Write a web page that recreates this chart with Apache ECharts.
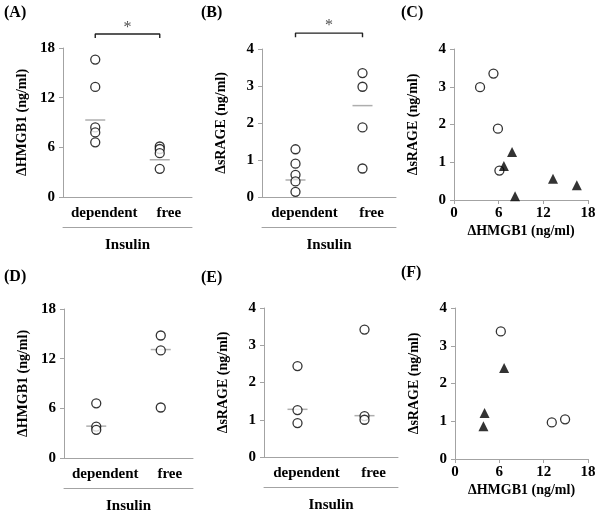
<!DOCTYPE html>
<html><head><meta charset="utf-8">
<script src="https://cdn.jsdelivr.net/npm/echarts@6/dist/echarts.min.js"></script>
<style>html,body{margin:0;padding:0;background:#fff}#c{width:601px;height:516px}</style>
</head><body><div id="c"></div>
<script>
// ---- data ----
const catLabels = ['dependent', 'free'];
const groupName = 'Insulin';
const hmgbName = '\u0394HMGB1 (ng/ml)';
const sragName = '\u0394sRAGE (ng/ml)';
// panel A: ΔHMGB1 by group
const aDep = [16.6, 13.3, 8.4, 7.8, 6.6];
const aFree = [6.1, 5.8, 5.3, 3.4];
const aMean = [9.3, 4.5];
const aBracket = [19.2, 19.7];
const aStar = 20.5;
// panel B: ΔsRAGE by group
const bDep = [1.29, 0.9, 0.6, 0.42, 0.14];
const bFree = [3.35, 2.98, 1.88, 0.77];
const bMean = [0.46, 2.47];
const bBracket = [4.32, 4.43];
const bStar = 4.62;
// panel C: scatter
const cDepX = [16.5, 13.3, 8.2, 7.8, 6.7];
const cDepY = [0.39, 0.56, 0.1, 1.27, 0.9];
const cFreeX = [5.3, 3.5, 5.9, 6.1];
const cFreeY = [3.35, 2.99, 1.89, 0.78];
// panel D
const dDep = [6.6, 3.8, 3.4];
const dFree = [14.8, 13.0, 6.1];
const dMean = [3.85, 13.1];
// panel E
const eDep = [2.44, 1.26, 0.91];
const eFree = [3.42, 1.1, 1.0];
const eMean = [1.28, 1.11];
// panel F
const fDepX = [6.65, 4.0, 3.85];
const fDepY = [2.41, 1.22, 0.87];
const fFreeX = [6.2, 13.1, 14.9];
const fFreeY = [3.38, 0.97, 1.05];
// axes
const hmgbMax = 18, hmgbStep = 6;
const sragMax = 4, sragStep = 1;
const panelLabels = ['(A)', '(B)', '(C)', '(D)', '(E)', '(F)'];

// ---- styling ----
const FONT = '"Liberation Serif", "Times New Roman", serif';
const AX = '#a3a3a3';
const txt = (s) => ({ fontFamily: FONT, fontWeight: 'bold', fontSize: s, color: '#000' });
const openCircle = { symbol: 'circle', symbolSize: 9, itemStyle: { color: '#fff', borderColor: '#000', borderWidth: 1.3 } };
const triangle = { symbol: 'triangle', symbolSize: 10, itemStyle: { color: '#000' } };

const grids = [], xAxes = [], yAxes = [], series = [];

function yAxisFor(gi, max, step, name) {
  yAxes.push({
    type: 'value', gridIndex: gi, min: 0, max: max, interval: step,
    axisLine: { show: true, onZero: false, lineStyle: { color: AX, width: 1 } },
    axisTick: { show: true, length: 4, lineStyle: { color: AX } },
    splitLine: { show: false },
    axisLabel: Object.assign(txt(15), { margin: 8 }),
    name: name, nameLocation: 'middle', nameGap: 34, nameTextStyle: txt(14)
  });
  return yAxes.length - 1;
}

function stripPanel(box, max, step, yName, dep, free, mean, bracket, star) {
  grids.push(box);
  const gi = grids.length - 1;
  xAxes.push({
    type: 'category', gridIndex: gi, data: catLabels,
    axisLine: { show: true, onZero: false, lineStyle: { color: AX } },
    axisTick: { show: false },
    axisLabel: Object.assign(txt(15), { margin: 9, interval: 0, hideOverlap: false, padding: [0, 0, 0, 18] })
  });
  xAxes.push({
    type: 'value', gridIndex: gi, min: -0.5, max: 1.5, position: 'bottom', offset: 30,
    axisLine: { show: true, onZero: false, lineStyle: { color: AX } },
    axisTick: { show: false }, axisLabel: { show: false }, splitLine: { show: false },
    name: groupName, nameLocation: 'middle', nameGap: 11, nameTextStyle: txt(15)
  });
  const xi = xAxes.length - 1;
  const yi = yAxisFor(gi, max, step, yName);
  series.push(Object.assign({ type: 'scatter', xAxisIndex: xi, yAxisIndex: yi,
    data: dep.map(v => [0, v]) }, openCircle));
  series.push(Object.assign({ type: 'scatter', xAxisIndex: xi, yAxisIndex: yi,
    data: free.map(v => [1, v]) }, openCircle));
  series.push({ type: 'scatter', xAxisIndex: xi, yAxisIndex: yi, symbol: 'rect', symbolSize: [20, 1.5],
    itemStyle: { color: '#9a9a9a' }, z: 1, data: mean.map((v, i) => [i, v]) });
  if (bracket) {
    series.push({ type: 'line', xAxisIndex: xi, yAxisIndex: yi, clip: false, symbol: 'none',
      lineStyle: { color: '#222', width: 1.4 },
      data: [[0, bracket[0]], [0, bracket[1]], [1, bracket[1]], [1, bracket[0]]] });
    series.push({ type: 'scatter', xAxisIndex: xi, yAxisIndex: yi, clip: false, symbol: 'circle', symbolSize: 2,
      itemStyle: { color: 'rgba(0,0,0,0)' },
      data: [[0.5, star]],
      label: { show: true, position: 'inside', formatter: '*', fontFamily: FONT, fontSize: 16, color: '#222' } });
  }
}

function scatterPanel(box, depX, depY, freeX, freeY) {
  grids.push(box);
  const gi = grids.length - 1;
  xAxes.push({
    type: 'value', gridIndex: gi, min: 0, max: hmgbMax, interval: hmgbStep,
    axisLine: { show: true, onZero: false, lineStyle: { color: AX } },
    axisTick: { show: true, length: 4, lineStyle: { color: AX } },
    splitLine: { show: false },
    axisLabel: Object.assign(txt(15), { margin: 6 }),
    name: hmgbName, nameLocation: 'middle', nameGap: 24, nameTextStyle: txt(14)
  });
  const xi = xAxes.length - 1;
  const yi = yAxisFor(gi, sragMax, sragStep, sragName);
  series.push(Object.assign({ type: 'scatter', xAxisIndex: xi, yAxisIndex: yi,
    data: freeX.map((x, i) => [x, freeY[i]]) }, openCircle));
  series.push(Object.assign({ type: 'scatter', xAxisIndex: xi, yAxisIndex: yi,
    data: depX.map((x, i) => [x, depY[i]]) }, triangle));
}

stripPanel({ left: 63, top: 48, width: 129, height: 149 }, hmgbMax, hmgbStep, hmgbName, aDep, aFree, aMean, aBracket, aStar);
stripPanel({ left: 262, top: 49, width: 134, height: 148 }, sragMax, sragStep, sragName, bDep, bFree, bMean, bBracket, bStar);
scatterPanel({ left: 454, top: 49, width: 134, height: 151 }, cDepX, cDepY, cFreeX, cFreeY);
stripPanel({ left: 64, top: 309, width: 129, height: 149 }, hmgbMax, hmgbStep, hmgbName, dDep, dFree, dMean, null, null);
stripPanel({ left: 264, top: 308, width: 134, height: 149 }, sragMax, sragStep, sragName, eDep, eFree, eMean, null, null);
scatterPanel({ left: 455, top: 308, width: 133, height: 151 }, fDepX, fDepY, fFreeX, fFreeY);

const titlePos = [[4, 5], [201, 5], [401, 5], [4, 269], [201, 270], [401, 265]];
const titles = panelLabels.map((t, i) => ({ text: t, left: titlePos[i][0], top: titlePos[i][1], padding: 0,
  textStyle: txt(16) }));

const chart = echarts.init(document.getElementById('c'), null, { renderer: 'canvas' });
chart.setOption({
  backgroundColor: '#fff', animation: false,
  title: titles, grid: grids, xAxis: xAxes, yAxis: yAxes, series: series
});
</script></body></html>
